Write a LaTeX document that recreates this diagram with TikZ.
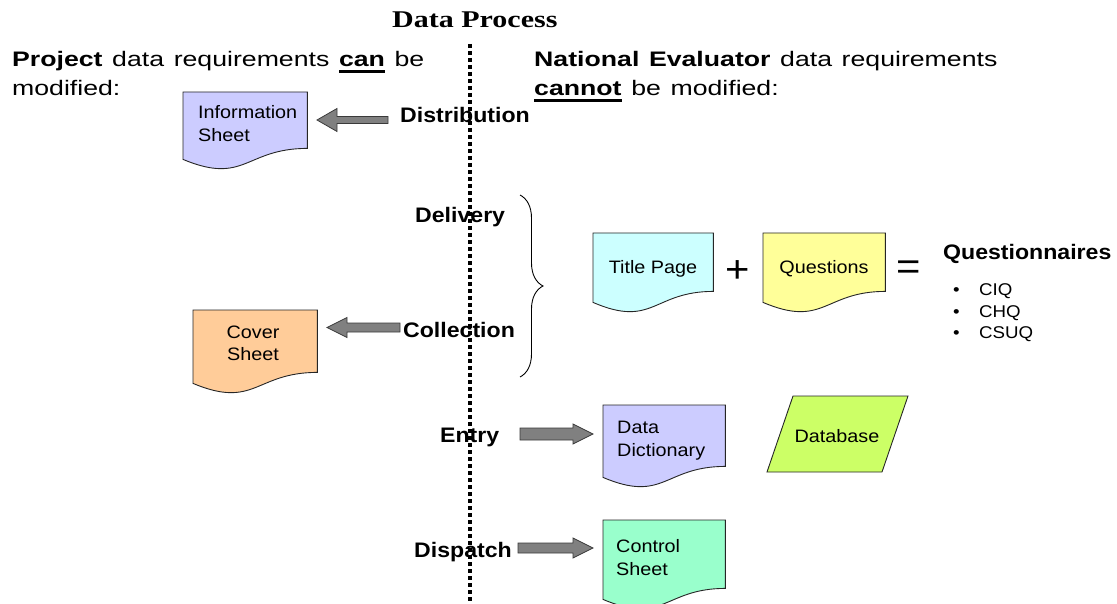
\documentclass[tikz,border=0pt]{standalone}
\usepackage{fontspec}
\setmainfont{Liberation Sans}[FakeStretch=1.1]
\newfontfamily\headfont{Liberation Sans}[FakeStretch=1.27, WordSpace=1.3]
\newfontfamily\titlefont{Liberation Serif}[FakeStretch=1.25]
\usetikzlibrary{calc,decorations.pathreplacing}

\definecolor{sheetblue}{HTML}{CCCCFF}
\definecolor{sheetorange}{HTML}{FFCC99}
\definecolor{sheetcyan}{HTML}{CCFFFF}
\definecolor{sheetyellow}{HTML}{FFFF99}
\definecolor{sheetgreen}{HTML}{99FFCC}
\definecolor{dbgreen}{HTML}{CCFF66}
\definecolor{arrowgray}{HTML}{808080}
\definecolor{arrowedge}{HTML}{3A3A3A}

% bold word with a heavy underline
\newcommand\ulbold[1]{\setbox0\hbox{\bfseries #1}\rlap{\rule[-6pt]{\wd0}{2.8pt}}\box0\relax}
% two stacked lines, baseline of the node = baseline of the first line
\newcommand\twoleft[2]{\vtop{\baselineskip=23pt\hbox{#1}\hbox{#2}}}
\newcommand\twocenter[2]{\vtop{\baselineskip=22pt\halign{\hfil##\hfil\cr #1\cr #2\cr}}}

% flowchart "document" outline over a placeholder node
\newcommand\docshape[2]{%
  \path[docline,fill=#2] (#1.north west) -- (#1.north east)
    -- ($(#1.south east)+(0,-11)$)
    .. controls ($(#1.south)+(0,-11)$) and ($(#1.south)+(0,26)$) .. (#1.south west)
    -- cycle;}
% horizontal block arrow: from, to, shaft half width, head length (signed), head half width
\newcommand\blockarrow[5]{%
  \path[barrow] ($(#1)+(0,#3)$) -- ($(#2)+(#4,#3)$) -- ($(#2)+(#4,#5)$) -- (#2)
    -- ($(#2)+(#4,-#5)$) -- ($(#2)+(#4,-#3)$) -- ($(#1)+(0,-#3)$) -- cycle;}

\tikzset{
  docnode/.style={anchor=north west, inner sep=0pt, draw=none},
  docline/.style={draw=black!85, line width=0.9pt},
  barrow/.style={fill=arrowgray, draw=arrowedge, line width=0.8pt},
  lbl/.style={anchor=base west, inner sep=0pt, font=\fontsize{21}{25}\selectfont\bfseries},
  head/.style={anchor=base west, inner sep=0pt, font=\fontsize{21}{25}\selectfont\headfont},
  intext/.style={inner sep=0pt, font=\fontsize{18}{22}\selectfont},
  small/.style={anchor=base west, inner sep=0pt, font=\fontsize{17}{20}\selectfont},
  bigsym/.style={inner sep=0pt, font=\fontsize{38}{38}\selectfont},
}

\begin{document}
\begin{tikzpicture}[x=1pt,y=-1pt]
\useasboundingbox (0,0) rectangle (1117,604);

% headings
\node[anchor=base west, inner sep=0pt, font=\fontsize{24}{28}\selectfont\titlefont\bfseries] (heading) at (392,28) {Data Process};
\node[head] (projA) at (12,67) {\textbf{Project} data requirements \ulbold{can} be};
\node[head] (projB) at (12,96) {modified:};
\node[head] (natA) at (534,67) {\textbf{National Evaluator} data requirements};
\node[head] (natB) at (534,96) {\ulbold{cannot} be modified:};

% project-side documents
\node[docnode, minimum width=124pt, minimum height=67pt] (info) at (183,92) {};
\docshape{info}{sheetblue}
\node[intext, anchor=base west] (infoT) at (198,119) {\twoleft{Information}{Sheet}};

\node[docnode, minimum width=124pt, minimum height=73pt] (cover) at (193,310) {};
\docshape{cover}{sheetorange}
\node[intext, anchor=base] (coverT) at (253,338) {\twocenter{Cover}{Sheet}};

% evaluator-side documents
\node[docnode, minimum width=120pt, minimum height=69pt] (tpage) at (593,233) {};
\docshape{tpage}{sheetcyan}
\node[intext, anchor=base] (tpageT) at (653,273) {Title Page};

\node[docnode, minimum width=122pt, minimum height=69pt] (quest) at (763,233) {};
\docshape{quest}{sheetyellow}
\node[intext, anchor=base] (questT) at (824,273) {Questions};

\node[bigsym] (plus) at (738,272) {+};
\node[bigsym] (equals) at (909,270) {=};

\node[lbl] (qn) at (943,260) {Questionnaires};
\foreach \y/\t/\n in {295/CIQ/q1, 317/CHQ/q2, 338/CSUQ/q3}{
  \node[small] (\n b) at (953,\y) {\textbullet};
  \node[small] (\n) at (979,\y) {\t};
}

\node[docnode, minimum width=122pt, minimum height=72pt] (dict) at (603,405) {};
\docshape{dict}{sheetblue}
\node[intext, anchor=base west] (dictT) at (617,433) {\twoleft{Data}{Dictionary}};

\path[docline, fill=dbgreen] (793,396) -- (908,396) -- (882,472) -- (767,472) -- cycle;
\node[intext, anchor=base] (db) at (837,442) {Database};

\node[docnode, minimum width=122pt, minimum height=79pt] (ctrl) at (603,520) {};
\docshape{ctrl}{sheetgreen}
\node[intext, anchor=base west] (ctrlT) at (616,552) {\twoleft{Control}{Sheet}};

% process stages
\node[lbl] (dist) at (400,123) {Distribution};
\node[lbl] (deliv) at (415,223) {Delivery};
\node[lbl] (coll) at (403,337) {Collection};
\node[lbl] (entry) at (440,442) {Entry};
\node[lbl] (disp) at (414,557) {Dispatch};

% block arrows between stages and documents
\coordinate (distA) at (388,120);   \coordinate (infoA) at (317,120);
\coordinate (collA) at (400,327.5); \coordinate (coverA) at (327,327.5);
\coordinate (entryA) at (520,434);  \coordinate (dictA) at (593,434);
\coordinate (dispA) at (518,548);   \coordinate (ctrlA) at (593,548);
\blockarrow{distA}{infoA}{3.5}{20}{11.5}
\blockarrow{collA}{coverA}{4.5}{20}{10}
\blockarrow{entryA}{dictA}{6}{-20}{10}
\blockarrow{dispA}{ctrlA}{5}{-20}{10}

% brace grouping delivery and collection
\coordinate (braceT) at (520,195);
\coordinate (braceB) at (520,377);
\draw[line width=0.9pt, decorate, decoration={brace, amplitude=23pt}] (braceT) -- (braceB);

% dividing line between the two sides
\coordinate (divT) at (470,44);
\coordinate (divB) at (470,604);
\draw[line width=4pt, dash pattern=on 4pt off 3pt] (divT) -- (divB);
\end{tikzpicture}
\end{document}
